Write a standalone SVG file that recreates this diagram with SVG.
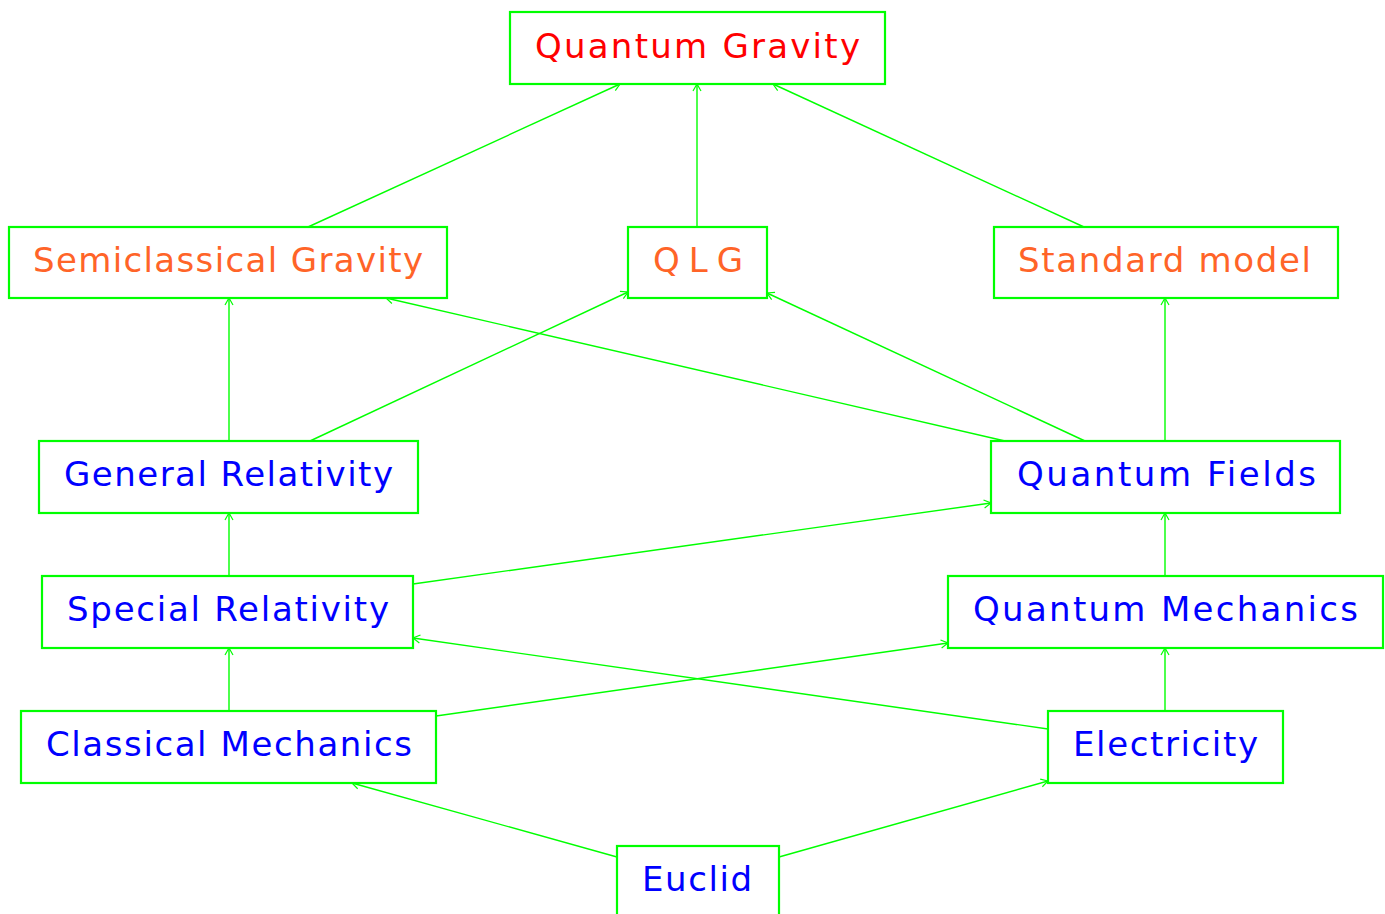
<svg xmlns="http://www.w3.org/2000/svg" width="1385" height="914" viewBox="0 0 1385 914">
<defs>
<style>
.box{fill:#fff;stroke:#00ff00;stroke-width:2.2}
.t{font-family:"DejaVu Sans","Liberation Sans",sans-serif;font-size:34px;text-anchor:start}
.b{fill:#0000ff}.o{fill:#ff6428}.r{fill:#ff0000}
.e{fill:none;stroke:#00ff00;stroke-width:1.4;marker-end:url(#ah)}
</style>
<marker id="ah" markerUnits="userSpaceOnUse" markerWidth="12" markerHeight="12" refX="0" refY="0" viewBox="-8 -6 10 12" orient="auto" overflow="visible">
<path d="M-7,-4 L0,0 L-7,4" fill="none" stroke="#00ff00" stroke-width="1.2"/>
</marker>
</defs>
<rect width="1385" height="914" fill="#fff"/>
<g id="edges">
<line class="e" x1="308" y1="227" x2="620" y2="84"/>
<line class="e" x1="697" y1="227" x2="697" y2="84"/>
<line class="e" x1="1084" y1="227" x2="773" y2="84"/>
<line class="e" x1="229" y1="441" x2="229" y2="298"/>
<line class="e" x1="310" y1="441" x2="628" y2="292"/>
<line class="e" x1="1005" y1="441" x2="386" y2="298"/>
<line class="e" x1="1085" y1="441" x2="767" y2="293"/>
<line class="e" x1="1165" y1="441" x2="1165" y2="298"/>
<line class="e" x1="229" y1="576" x2="229" y2="513"/>
<line class="e" x1="413" y1="584" x2="991" y2="503"/>
<line class="e" x1="1165" y1="576" x2="1165" y2="513"/>
<line class="e" x1="229" y1="711" x2="229" y2="648"/>
<line class="e" x1="436" y1="716" x2="948" y2="643"/>
<line class="e" x1="1048" y1="729" x2="413" y2="638"/>
<line class="e" x1="1165" y1="711" x2="1165" y2="648"/>
<line class="e" x1="617" y1="857" x2="352" y2="783"/>
<line class="e" x1="779" y1="857" x2="1048" y2="781"/>
</g>
<g id="n-qg"><rect class="box" x="510" y="12" width="375" height="72"/><text class="t r" x="535" y="58" textLength="325" lengthAdjust="spacing">Quantum Gravity</text></g>
<g id="n-sg"><rect class="box" x="9" y="227" width="438" height="71"/><text class="t o" x="33" y="272" textLength="390" lengthAdjust="spacing">Semiclassical Gravity</text></g>
<g id="n-qlg"><rect class="box" x="628" y="227" width="139" height="71"/><text class="t o" x="653" y="272" textLength="90" lengthAdjust="spacing">QLG</text></g>
<g id="n-sm"><rect class="box" x="994" y="227" width="344" height="71"/><text class="t o" x="1018" y="272" textLength="293" lengthAdjust="spacing">Standard model</text></g>
<g id="n-gr"><rect class="box" x="39" y="441" width="379" height="72"/><text class="t b" x="64" y="486" textLength="329" lengthAdjust="spacing">General Relativity</text></g>
<g id="n-qf"><rect class="box" x="991" y="441" width="349" height="72"/><text class="t b" x="1017" y="486" textLength="299" lengthAdjust="spacing">Quantum Fields</text></g>
<g id="n-sr"><rect class="box" x="42" y="576" width="371" height="72"/><text class="t b" x="67" y="621" textLength="322" lengthAdjust="spacing">Special Relativity</text></g>
<g id="n-qm"><rect class="box" x="948" y="576" width="435" height="72"/><text class="t b" x="973" y="621" textLength="385" lengthAdjust="spacing">Quantum Mechanics</text></g>
<g id="n-cm"><rect class="box" x="21" y="711" width="415" height="72"/><text class="t b" x="46" y="756" textLength="366" lengthAdjust="spacing">Classical Mechanics</text></g>
<g id="n-el"><rect class="box" x="1048" y="711" width="235" height="72"/><text class="t b" x="1073" y="756" textLength="185" lengthAdjust="spacing">Electricity</text></g>
<g id="n-eu"><rect class="box" x="617" y="846" width="162" height="80"/><text class="t b" x="642" y="891" textLength="110" lengthAdjust="spacing">Euclid</text></g>
</svg>
